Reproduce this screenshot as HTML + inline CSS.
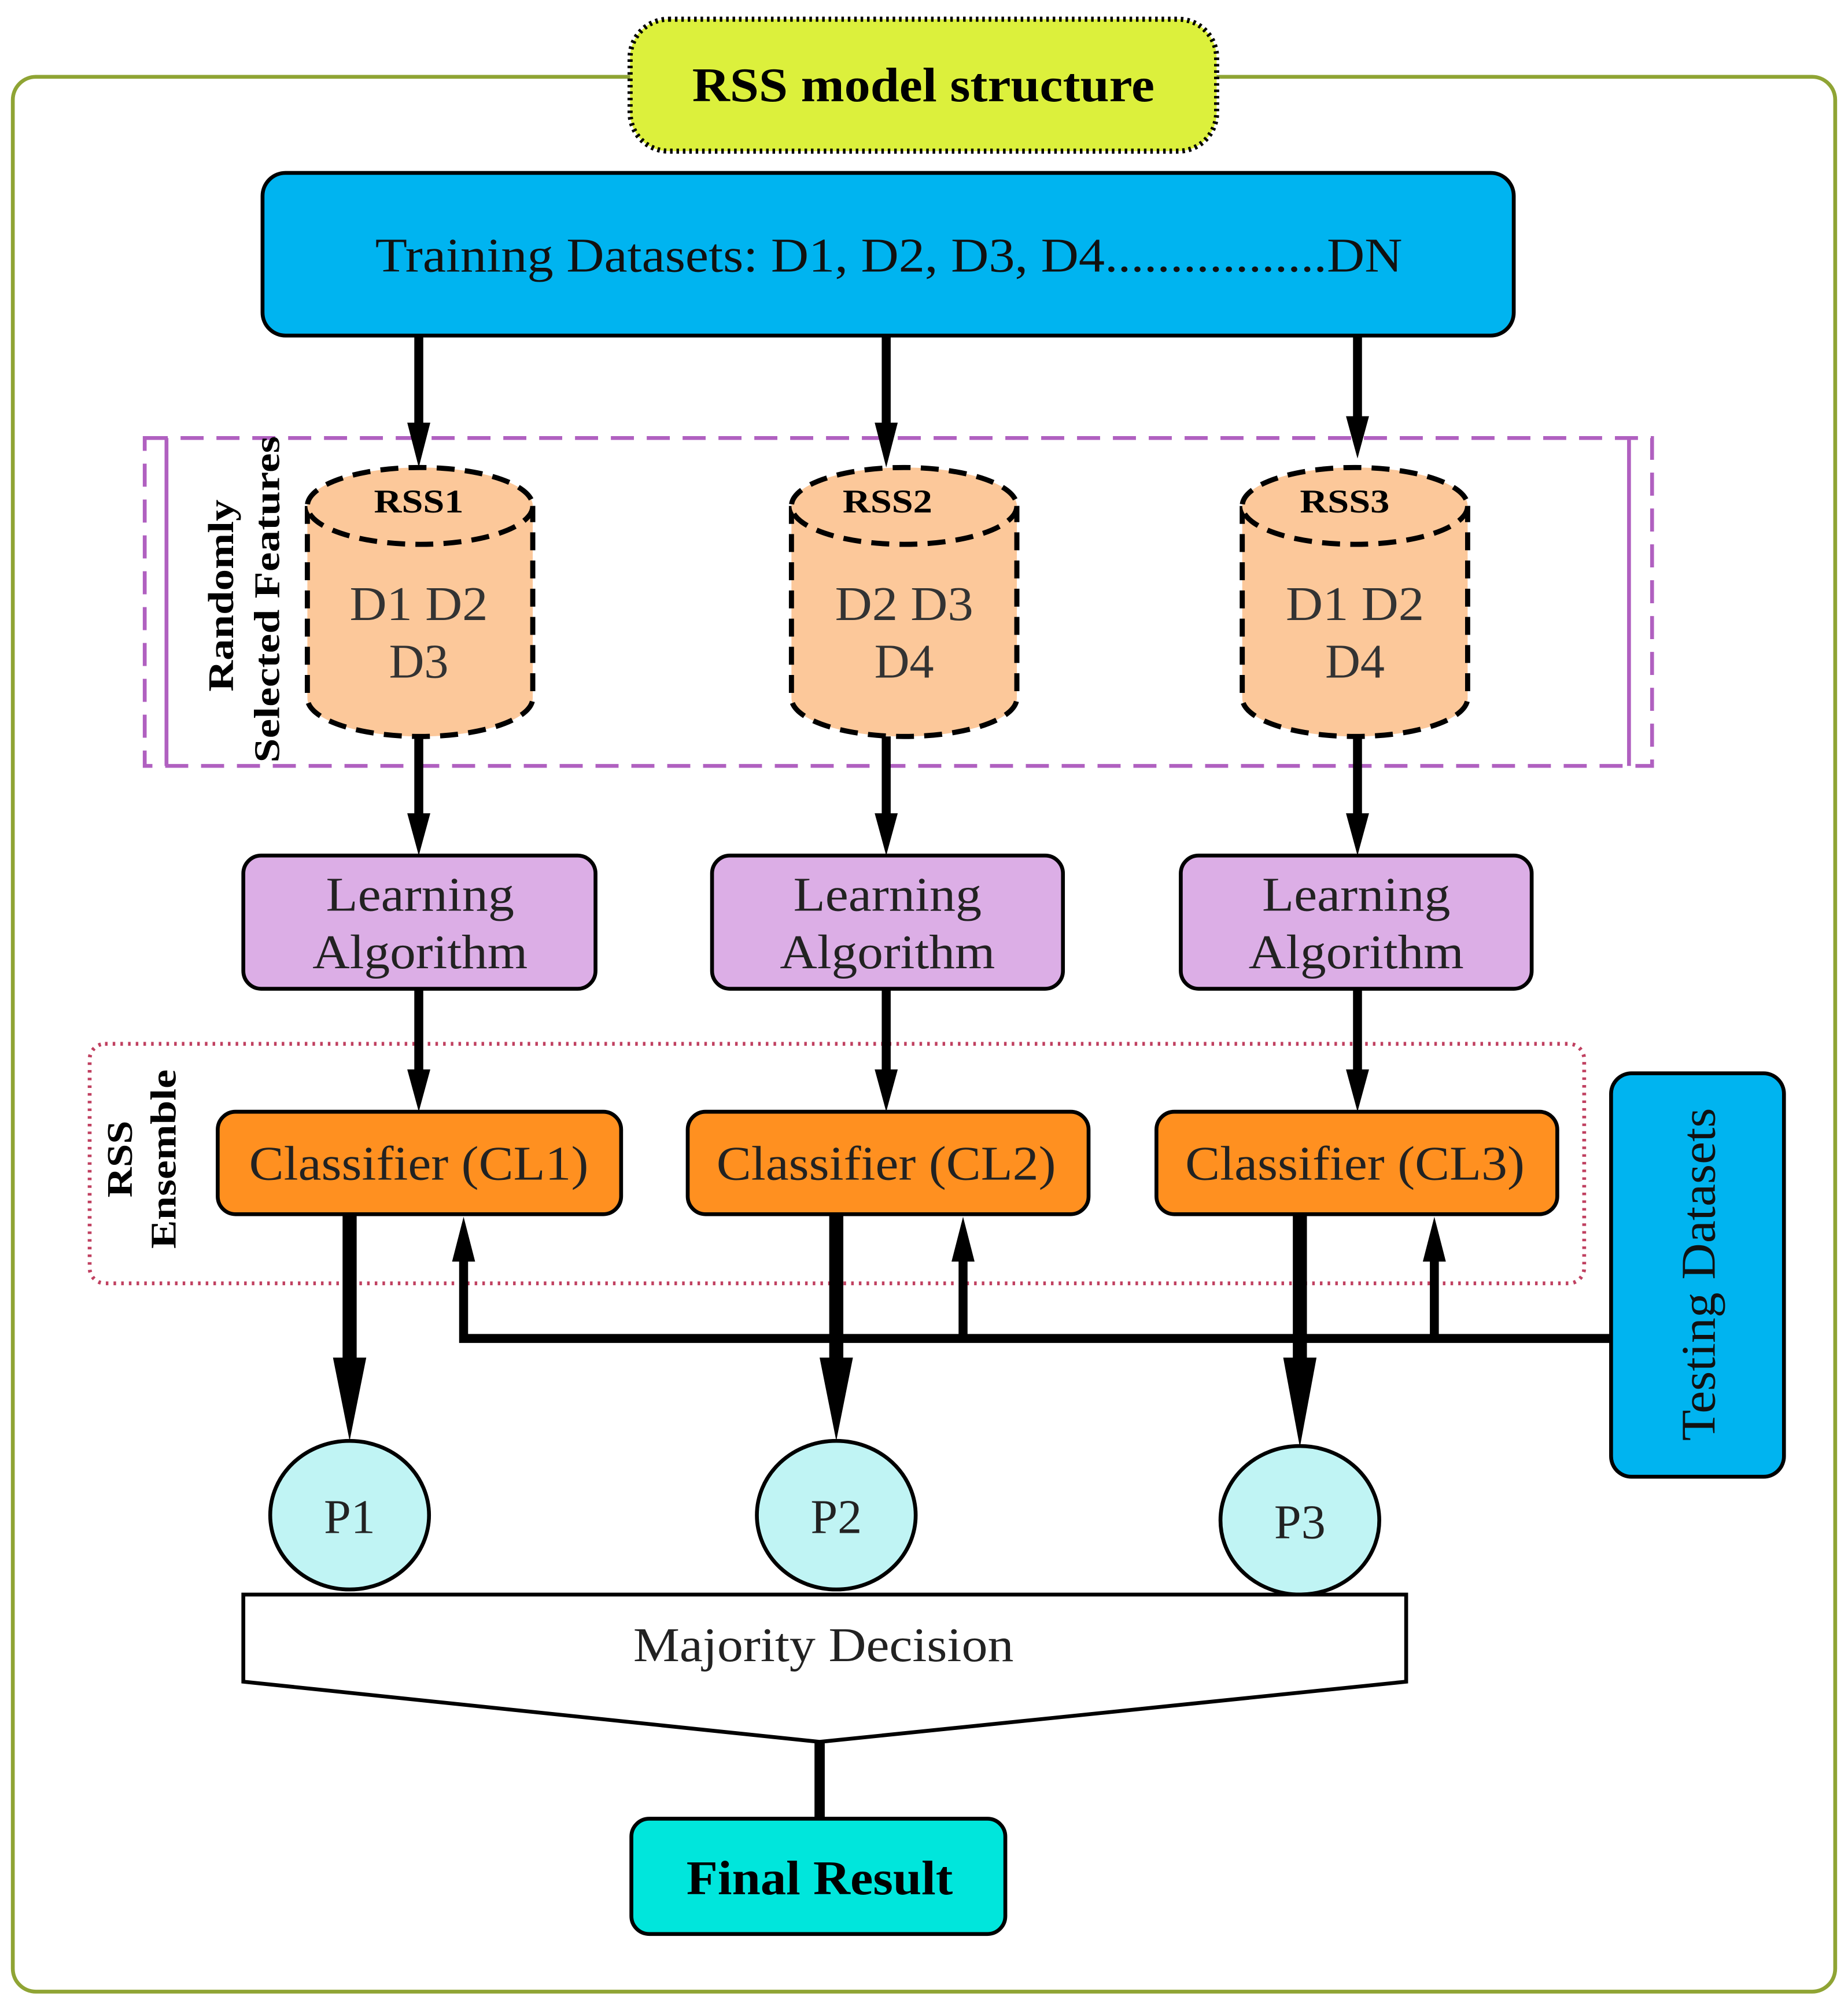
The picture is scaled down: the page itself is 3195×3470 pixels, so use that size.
<!DOCTYPE html>
<html><head><meta charset="utf-8"><style>
html,body{margin:0;padding:0;background:#fff;}
svg{display:block;}
text{font-family:"Liberation Serif",serif;}
</style></head><body>
<svg width="3195" height="3470" viewBox="0 0 1443 1567" preserveAspectRatio="none" xmlns="http://www.w3.org/2000/svg">
<rect x="10" y="60" width="1423" height="1495" rx="18" fill="#fff" stroke="#8fa434" stroke-width="3"/>
<rect x="492" y="15" width="458" height="103" rx="30" fill="#dcf03c" stroke="#000" stroke-width="4" stroke-dasharray="2,3"/>
<text x="721" y="79" font-size="38" font-weight="bold" text-anchor="middle" textLength="361" lengthAdjust="spacingAndGlyphs">RSS model structure</text>
<rect x="205" y="135" width="977" height="127" rx="18" fill="#00b4f0" stroke="#000" stroke-width="3"/>
<text x="694" y="212" font-size="38" text-anchor="middle" fill="#111" textLength="802" lengthAdjust="spacingAndGlyphs">Training Datasets: D1, D2, D3, D4.................DN</text>
<rect x="113" y="342" width="1177" height="256" fill="none" stroke="#b060c0" stroke-width="3" stroke-dasharray="18,10"/>
<line x1="130" y1="342" x2="130" y2="598" stroke="#b060c0" stroke-width="3"/>
<line x1="1272" y1="342" x2="1272" y2="598" stroke="#b060c0" stroke-width="3"/>
<text transform="translate(182,465) rotate(-90)" font-size="28" font-weight="bold" text-anchor="middle" textLength="150" lengthAdjust="spacingAndGlyphs">Randomly</text>
<text transform="translate(218,468) rotate(-90)" font-size="28" font-weight="bold" text-anchor="middle" textLength="255" lengthAdjust="spacingAndGlyphs">Selected Features</text>
<g stroke="#000" stroke-width="7">
<line x1="327" y1="262" x2="327" y2="335"/>
<line x1="692" y1="262" x2="692" y2="335"/>
<line x1="1060" y1="262" x2="1060" y2="330"/>
</g>
<g fill="#000">
<polygon points="318,330 336,330 327,365"/>
<polygon points="683,330 701,330 692,365"/>
<polygon points="1051,325 1069,325 1060,358"/>
</g>
<g stroke="#000" stroke-width="4" stroke-dasharray="14,8" fill="#fcc89a">
<path d="M240,395 L240,545 A88,30 0 0 0 416,545 L416,395"/>
<ellipse cx="328" cy="395" rx="88" ry="30"/>
<path d="M618,395 L618,545 A88,30 0 0 0 794,545 L794,395"/>
<ellipse cx="706" cy="395" rx="88" ry="30"/>
<path d="M970,395 L970,545 A88,30 0 0 0 1146,545 L1146,395"/>
<ellipse cx="1058" cy="395" rx="88" ry="30"/>
</g>
<g font-size="26" font-weight="bold" text-anchor="middle">
<text x="327" y="400" textLength="70" lengthAdjust="spacingAndGlyphs">RSS1</text><text x="693" y="400" textLength="70" lengthAdjust="spacingAndGlyphs">RSS2</text><text x="1050" y="400" textLength="70" lengthAdjust="spacingAndGlyphs">RSS3</text>
</g>
<g font-size="38" text-anchor="middle" fill="#333">
<text x="327" y="484" textLength="108" lengthAdjust="spacingAndGlyphs">D1 D2</text><text x="327" y="529">D3</text>
<text x="706" y="484" textLength="108" lengthAdjust="spacingAndGlyphs">D2 D3</text><text x="706" y="529">D4</text>
<text x="1058" y="484" textLength="108" lengthAdjust="spacingAndGlyphs">D1 D2</text><text x="1058" y="529">D4</text>
</g>
<g stroke="#000" stroke-width="7">
<line x1="327" y1="575" x2="327" y2="640"/>
<line x1="692" y1="575" x2="692" y2="640"/>
<line x1="1060" y1="575" x2="1060" y2="640"/>
</g>
<g fill="#000">
<polygon points="318,635 336,635 327,668"/>
<polygon points="683,635 701,635 692,668"/>
<polygon points="1051,635 1069,635 1060,668"/>
</g>
<g fill="#dcaee6" stroke="#000" stroke-width="3">
<rect x="190" y="668" width="275" height="104" rx="14"/>
<rect x="556" y="668" width="274" height="104" rx="14"/>
<rect x="922" y="668" width="274" height="104" rx="14"/>
</g>
<g font-size="38" text-anchor="middle" fill="#222">
<text x="328" y="711" textLength="147" lengthAdjust="spacingAndGlyphs">Learning</text><text x="328" y="756" textLength="168" lengthAdjust="spacingAndGlyphs">Algorithm</text>
<text x="693" y="711" textLength="147" lengthAdjust="spacingAndGlyphs">Learning</text><text x="693" y="756" textLength="168" lengthAdjust="spacingAndGlyphs">Algorithm</text>
<text x="1059" y="711" textLength="147" lengthAdjust="spacingAndGlyphs">Learning</text><text x="1059" y="756" textLength="168" lengthAdjust="spacingAndGlyphs">Algorithm</text>
</g>
<rect x="70" y="815" width="1167" height="187" rx="12" fill="none" stroke="#c04060" stroke-width="3" stroke-dasharray="2,4"/>
<text transform="translate(103,905) rotate(-90)" font-size="28" font-weight="bold" text-anchor="middle" textLength="60" lengthAdjust="spacingAndGlyphs">RSS</text>
<text transform="translate(137,905) rotate(-90)" font-size="28" font-weight="bold" text-anchor="middle" textLength="140" lengthAdjust="spacingAndGlyphs">Ensemble</text>
<g stroke="#000" stroke-width="7">
<line x1="327" y1="772" x2="327" y2="840"/>
<line x1="692" y1="772" x2="692" y2="840"/>
<line x1="1060" y1="772" x2="1060" y2="840"/>
</g>
<g fill="#000">
<polygon points="318,835 336,835 327,868"/>
<polygon points="683,835 701,835 692,868"/>
<polygon points="1051,835 1069,835 1060,868"/>
</g>
<g stroke="#000" stroke-width="7" fill="none">
<polyline points="1258,1045 362,1045 362,980"/>
<line x1="752" y1="1045" x2="752" y2="980"/>
<line x1="1120" y1="1045" x2="1120" y2="980"/>
</g>
<g fill="#000">
<polygon points="353,985 371,985 362,950"/>
<polygon points="743,985 761,985 752,950"/>
<polygon points="1111,985 1129,985 1120,950"/>
</g>
<g fill="#ff9020" stroke="#000" stroke-width="3">
<rect x="170" y="868" width="315" height="80" rx="14"/>
<rect x="537" y="868" width="313" height="80" rx="14"/>
<rect x="903" y="868" width="313" height="80" rx="14"/>
</g>
<g font-size="38" text-anchor="middle" fill="#222">
<text x="327" y="921" textLength="265" lengthAdjust="spacingAndGlyphs">Classifier (CL1)</text>
<text x="692" y="921" textLength="265" lengthAdjust="spacingAndGlyphs">Classifier (CL2)</text>
<text x="1058" y="921" textLength="265" lengthAdjust="spacingAndGlyphs">Classifier (CL3)</text>
</g>
<g stroke="#000" stroke-width="11">
<line x1="273" y1="948" x2="273" y2="1065"/>
<line x1="653" y1="948" x2="653" y2="1065"/>
<line x1="1015" y1="948" x2="1015" y2="1065"/>
</g>
<g fill="#000">
<polygon points="260,1060 286,1060 273,1125"/>
<polygon points="640,1060 666,1060 653,1125"/>
<polygon points="1002,1060 1028,1060 1015,1130"/>
</g>
<rect x="1258" y="838" width="135" height="315" rx="16" fill="#00b4f0" stroke="#000" stroke-width="3"/>
<text transform="translate(1339,995) rotate(-90)" font-size="38" text-anchor="middle" fill="#111" textLength="260" lengthAdjust="spacingAndGlyphs">Testing Datasets</text>
<g fill="#c0f4f4" stroke="#000" stroke-width="3">
<ellipse cx="273" cy="1183" rx="62" ry="58"/>
<ellipse cx="653" cy="1183" rx="62" ry="58"/>
<ellipse cx="1015" cy="1187" rx="62" ry="58"/>
</g>
<g font-size="38" text-anchor="middle" fill="#222">
<text x="273" y="1197">P1</text><text x="653" y="1197">P2</text><text x="1015" y="1201">P3</text>
</g>
<polygon points="190,1245 1098,1245 1098,1313 640,1360 190,1313" fill="#fff" stroke="#000" stroke-width="3"/>
<text x="643" y="1297" font-size="38" text-anchor="middle" fill="#222" textLength="297" lengthAdjust="spacingAndGlyphs">Majority Decision</text>
<line x1="640" y1="1360" x2="640" y2="1420" stroke="#000" stroke-width="8"/>
<rect x="493" y="1420" width="292" height="90" rx="14" fill="#00e6dc" stroke="#000" stroke-width="3"/>
<text x="640" y="1479" font-size="38" font-weight="bold" text-anchor="middle" textLength="208" lengthAdjust="spacingAndGlyphs">Final Result</text>
</svg>
</body></html>
